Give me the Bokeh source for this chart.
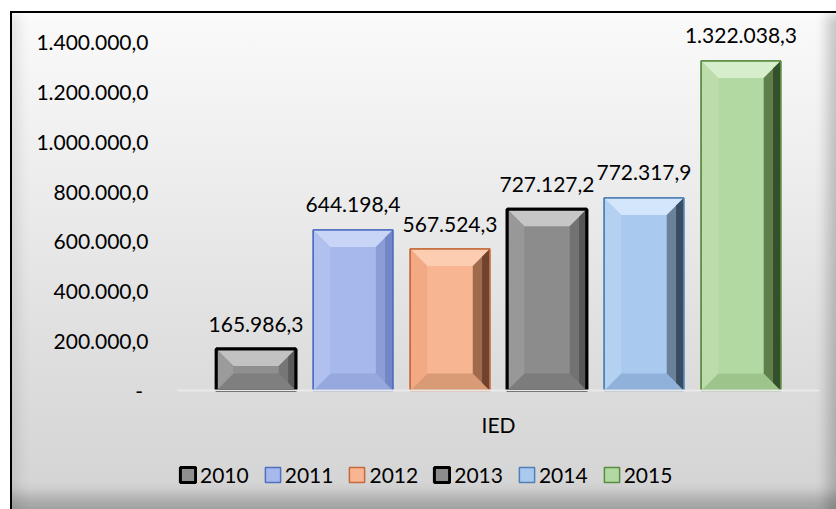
import numpy as np
from bokeh.plotting import figure
from bokeh.models import ColumnDataSource, Range1d, FixedTicker, Legend, LegendItem
from bokeh.core.properties import value
from bokeh.embed import file_html
from bokeh.resources import INLINE

# ---- data ----
years = ["2010", "2011", "2012", "2013", "2014", "2015"]
values = [165986.3, 644198.4, 567524.3, 727127.2, 772317.9, 1322038.3]
category = "IED"
y_ticks = [0, 200000, 400000, 600000, 800000, 1000000, 1200000, 1400000]

# ---- styles ----
body_colors = ["#8f8f8f", "#a7b9ec", "#f7b592", "#8c8c8c", "#a9c9ef", "#b3d9a2"]
edge_colors = ["#000000", "#4f6fc0", "#c46a3c", "#000000", "#4f7fb4", "#5a8c40"]
edge_widths = [3, 1.5, 1.5, 3, 1.5, 1.5]
top_colors = ["#c2c2c2", "#c9d5f7", "#fdcdb2", "#c6c6c6", "#d4e6fb", "#d6eecb"]
bottom_colors = ["#7f7f7f", "#95a9df", "#d99a76", "#7c7c7c", "#90b1d9", "#9dc58b"]
left_colors = ["#9b9b9b", "#b1c1ef", "#f2aa84", "#989898", "#b4d1f2", "#bcdcac"]
right_colors = ["#767676", "#8a9dd6", "#a06a4c", "#727272", "#6a8199", "#5e7e4c"]
right_dark = ["#5a5a5a", "#7386c6", "#6e4430", "#565656", "#3a4c60", "#34502a"]

FONT = "Lato"
W, H = 836, 509
# frame geometry (page pixels)
F_LEFT, F_RIGHT, F_TOP, F_BOTTOM = 177, 819, 15, 502
Y0_PX, YTOP_PX = 390, 41           # pixel rows of 0 and of the top tick
UNITS_PER_PX = y_ticks[-1] / (Y0_PX - YTOP_PX)
Y_HI = y_ticks[-1] + (YTOP_PX - F_TOP) * UNITS_PER_PX
Y_LO = -(F_BOTTOM - Y0_PX) * UNITS_PER_PX
X_LO, X_HI = -0.81, 5.81
BAR_W = 0.82


def fmt(v):
    if v == 0:
        return "-\u00a0"
    s = f"{v:,.1f}"
    return s.replace(",", "X").replace(".", ",").replace("X", ".")


xpos = np.arange(len(years)).astype(float)

p = figure(width=W, height=H, output_backend="svg", toolbar_location=None,
           x_range=Range1d(X_LO, X_HI), y_range=Range1d(Y_LO, Y_HI),
           min_border_left=F_LEFT, min_border_right=W - F_RIGHT, min_border_top=F_TOP,
           min_border_bottom=H - F_BOTTOM)
p.background_fill_color = None
p.border_fill_color = None
p.outline_line_color = None
p.grid.visible = False

p.styles = {
    "background": "linear-gradient(to bottom, #fbfbfb 0%, #efefef 30%, #e0e0e0 65%, #d3d3d3 100%)",
    "box-shadow": ("inset 10px 11px 0 0 #ffffff, inset 12px 13px 0 0 #000000, "
                   "inset 0 26px 12px -12px rgba(255,255,255,0.95), "
                   "inset 28px 0 14px -10px rgba(0,0,0,0.10), "
                   "inset 0 -22px 14px -8px rgba(0,0,0,0.22), "
                   "inset -18px 0 12px -8px rgba(0,0,0,0.18)"),
}

# bar bodies
src = ColumnDataSource(dict(x=xpos, top=values, fill=body_colors, line=edge_colors,
                            lw=edge_widths, year=years))
bars = p.vbar(x="x", top="top", width=BAR_W, source=src, fill_color="fill",
              line_color="line", line_width="lw")

# bevels (derived from the bar values through data scales)
px_x = (X_HI - X_LO) / (F_RIGHT - F_LEFT)
bx = 17 * px_x
xs, ys, cols = [], [], []
for i, v in enumerate(values):
    x0, x1 = xpos[i] - BAR_W / 2, xpos[i] + BAR_W / 2
    by = min(17 * UNITS_PER_PX, v / 2.0)
    xs.append([x0, x1, x1 - bx, x0 + bx]); ys.append([v, v, v - by, v - by]); cols.append(top_colors[i])
    xs.append([x0, x1, x1 - bx, x0 + bx]); ys.append([0, 0, by, by]); cols.append(bottom_colors[i])
    xs.append([x0, x0, x0 + bx, x0 + bx]); ys.append([0, v, v - by, by]); cols.append(left_colors[i])
    xs.append([x1, x1, x1 - bx, x1 - bx]); ys.append([0, v, v - by, by]); cols.append(right_colors[i])
    hx, hy = bx * 0.45, by * 0.45
    xs.append([x1, x1, x1 - hx, x1 - hx]); ys.append([0, v, v - hy, hy]); cols.append(right_dark[i])

p.patches(xs="xs", ys="ys", fill_color="c", line_color=None,
          source=ColumnDataSource(dict(xs=xs, ys=ys, c=cols)))

# outline on top
p.vbar(x="x", top="top", width=BAR_W, source=src, fill_color=None,
       line_color="line", line_width="lw")

# value labels
p.text(x=xpos, y=values, text=[fmt(v) for v in values], text_align="center",
       text_baseline="alphabetic", y_offset=-25, text_font=value(FONT),
       text_font_size="21px", text_color="#000000")

# axes
yax = p.yaxis[0]
yax.ticker = FixedTicker(ticks=y_ticks)
yax.major_label_overrides = {t: fmt(t) for t in y_ticks}
yax.axis_line_color = None
yax.major_tick_line_color = None
yax.minor_tick_line_color = None
yax.major_tick_out = 0
yax.major_label_standoff = 29
yax.major_label_text_font = FONT
yax.major_label_text_font_size = "21px"
yax.major_label_text_color = "#000000"

xax = p.xaxis[0]
xax.fixed_location = 0
xax.ticker = FixedTicker(ticks=[(len(years) - 1) / 2.0])
xax.major_label_overrides = {(len(years) - 1) / 2.0: category}
xax.axis_line_color = "#e9e9e9"
xax.axis_line_width = 2
xax.major_tick_line_color = None
xax.minor_tick_line_color = None
xax.major_tick_out = 0
xax.major_label_standoff = 21
xax.major_label_text_font = FONT
xax.major_label_text_font_size = "21px"
xax.major_label_text_color = "#000000"

legend = Legend(items=[LegendItem(label=years[i], renderers=[bars], index=i) for i in range(len(years))],
                location=(1, 15), orientation="horizontal", glyph_width=19, glyph_height=19,
                label_standoff=3, spacing=14, padding=0, margin=0,
                label_text_font=FONT, label_text_font_size="21px", label_text_color="#000000",
                background_fill_alpha=0, border_line_color=None)
p.add_layout(legend)

open("out.html", "w").write(file_html(p, INLINE))
